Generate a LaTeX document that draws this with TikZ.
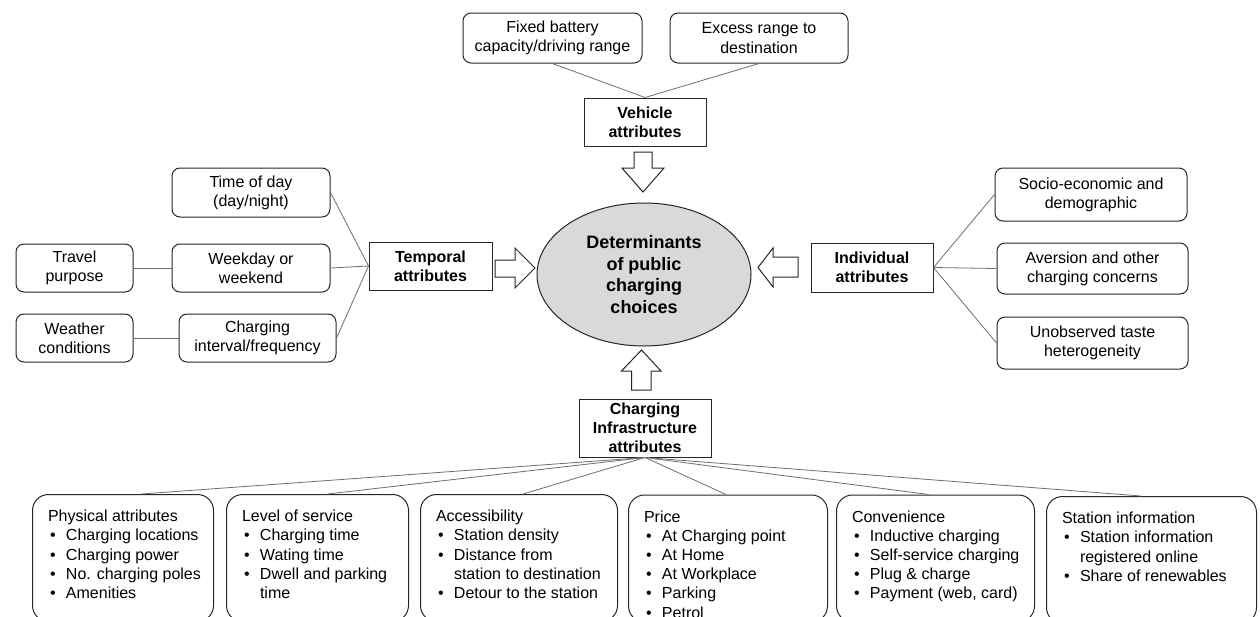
\documentclass[tikz,border=0pt]{standalone}
\usepackage{fontspec}
\setmainfont{Liberation Sans}
\usetikzlibrary{shapes.geometric,calc}
\definecolor{lc}{HTML}{6E6E6E}
\definecolor{bc}{HTML}{262626}
\definecolor{ef}{HTML}{D9D9D9}
\newcommand{\fs}{\fontsize{16}{19.2}\selectfont}
\newcommand{\fe}{\fontsize{18}{21.7}\selectfont}
\newcommand{\btitle}[1]{\noindent\mbox{#1}}
\newcommand{\bitem}[1]{\par\noindent\makebox[18pt][l]{\hspace{2pt}\textbullet}\mbox{#1}}
\newcommand{\bcont}[1]{\par\noindent\hspace*{18pt}\mbox{#1}}
\newcommand{\bcontent}[2]{\begin{minipage}[t][96pt][t]{#1pt}\fs\parindent=0pt\parskip=0pt #2\end{minipage}}
\tikzset{
  rbox/.style={draw=bc, line width=1pt, rounded corners=8pt, fill=white, align=center, inner sep=0pt, font=\fs},
  hbox/.style={draw=bc, line width=1pt, fill=white, align=center, inner sep=0pt, font=\bfseries\fs},
  bbox/.style={draw=bc, line width=1pt, rounded corners=16pt, fill=white, inner xsep=15.5pt, inner ysep=15.5pt, anchor=north west},
  link/.style={draw=lc, line width=0.8pt},
  blk/.style={draw=bc, fill=white, line width=1pt, line join=miter}
}
\begin{document}
\begin{tikzpicture}[x=1pt, y=-1pt]
\fill[white] (0,0) rectangle (1260,616);
\useasboundingbox (0,0) rectangle (1260,616);

% vehicle branch
\node[rbox, minimum width=179pt, minimum height=50pt] (fixbat) at (552.5,38) {Fixed battery\\capacity/driving range};
\node[rbox, minimum width=178pt, minimum height=50pt] (excess) at (759,38) {Excess range to\\destination};
\node[hbox, minimum width=122pt, minimum height=48pt] (vehicle) at (645,122) {Vehicle\\attributes};
\draw[link] (fixbat.south) -- (vehicle.north);
\draw[link] (excess.south) -- (vehicle.north);

% temporal branch
\node[rbox, minimum width=158pt, minimum height=49pt] (tod) at (251,192.5) {Time of day\\(day/night)};
\node[rbox, minimum width=158pt, minimum height=48pt] (wkd) at (251,268) {Weekday or\\weekend};
\node[rbox, minimum width=117pt, minimum height=48pt] (travel) at (74.5,268) {Travel\\purpose};
\node[rbox, minimum width=117pt, minimum height=48pt] (weather) at (74.5,338) {Weather\\conditions};
\node[rbox, minimum width=157pt, minimum height=48pt] (chint) at (257.5,338) {Charging\\interval/frequency};
\node[hbox, minimum width=123pt, minimum height=48pt] (temporal) at (430.5,266) {Temporal\\attributes};
\draw[link] (tod.east) -- (temporal.west);
\draw[link] (wkd.east) -- (temporal.west);
\draw[link] (chint.east) -- (temporal.west);
\draw[link] (travel.east) -- (wkd.west);
\draw[link] (weather.east) -- (chint.west);

% individual branch
\node[hbox, minimum width=122pt, minimum height=49pt] (indiv) at (872,267.5) {Individual\\attributes};
\node[rbox, minimum width=192pt, minimum height=53pt] (socio) at (1091,194.5) {Socio-economic and\\demographic};
\node[rbox, minimum width=191pt, minimum height=51pt] (aversion) at (1092.5,268.5) {Aversion and other\\charging concerns};
\node[rbox, minimum width=191pt, minimum height=52pt] (unobs) at (1092.5,343) {Unobserved taste\\heterogeneity};
\draw[link] (indiv.east) -- (socio.west);
\draw[link] (indiv.east) -- (aversion.west);
\draw[link] (indiv.east) -- (unobs.west);

% core
\node[ellipse, draw=bc, fill=ef, line width=1pt, minimum width=214pt, minimum height=143pt, inner sep=0pt, align=center, font=\bfseries\fe] (core) at (644,274.5) {Determinants\\of public\\charging\\choices};

% infrastructure branch
\node[hbox, minimum width=132pt, minimum height=58pt] (infra) at (645,428) {Charging\\Infrastructure\\attributes};

\node[bbox] (phys) at (32,494) {\bcontent{150}{\btitle{Physical attributes}\bitem{Charging locations}\bitem{Charging power}\bitem{No. charging poles}\bitem{Amenities}}};
\node[bbox] (los) at (226,494) {\bcontent{151}{\btitle{Level of service}\bitem{Charging time}\bitem{Wating time}\bitem{Dwell and parking}\bcont{time}}};
\node[bbox] (access) at (420,494) {\bcontent{166}{\btitle{Accessibility}\bitem{Station density}\bitem{Distance from}\bcont{station to destination}\bitem{Detour to the station}}};
\node[bbox] (price) at (628,494.5) {\bcontent{168}{\btitle{Price}\bitem{At Charging point}\bitem{At Home}\bitem{At Workplace}\bitem{Parking}\bitem{Petrol}}};
\node[bbox] (conv) at (836,494.5) {\bcontent{167}{\btitle{Convenience}\bitem{Inductive charging}\bitem{Self-service charging}\bitem{Plug \& charge}\bitem{Payment (web, card)}}};
\node[bbox] (stinfo) at (1046,496) {\bcontent{179}{\btitle{Station information}\bitem{Station information}\bcont{registered online}\bitem{Share of renewables}}};

\draw[link] (infra.south) -- ($(phys.north west)!0.6!(phys.north east)$);
\draw[link] (infra.south) -- ($(los.north west)!0.555!(los.north east)$);
\draw[link] (infra.south) -- ($(access.north west)!0.52!(access.north east)$);
\draw[link] (infra.south) -- ($(price.north west)!0.49!(price.north east)$);
\draw[link] (infra.south) -- ($(conv.north west)!0.465!(conv.north east)$);
\draw[link] (infra.south) -- ($(stinfo.north west)!0.45!(stinfo.north east)$);

% block arrows
\draw[blk] (634,152) -- (652,152) -- (652,168) -- (664,168) -- (643,192) -- (622,168) -- (634,168) -- cycle;
\draw[blk] (495,260) -- (515,260) -- (515,248) -- (535,268) -- (515,288) -- (515,277) -- (495,277) -- cycle;
\draw[blk] (798,257) -- (773,257) -- (773,248) -- (758,267.5) -- (773,287) -- (773,277) -- (798,277) -- cycle;
\draw[blk] (631.5,390) -- (651,390) -- (651,371) -- (661,371) -- (641.5,350) -- (621.5,371) -- (631.5,371) -- cycle;
\end{tikzpicture}
\end{document}
